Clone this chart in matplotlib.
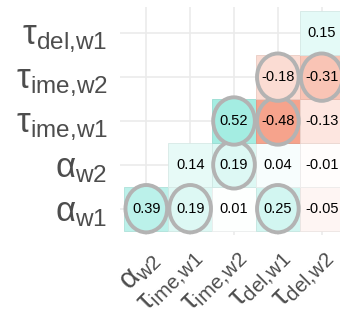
import numpy as np
import matplotlib

matplotlib.use("Agg")
import matplotlib.pyplot as plt
from matplotlib.colors import LinearSegmentedColormap
from matplotlib.patches import Rectangle, Ellipse
from matplotlib.transforms import ScaledTranslation

plt.rcParams["font.family"] = ["Liberation Sans", "DejaVu Sans"]
plt.rcParams["mathtext.default"] = "regular"

# correlation matrix, rows bottom -> top, columns left -> right
col_labels = [r"$\alpha_{w2}$", r"$\tau_{ime{,}w1}$", r"$\tau_{ime{,}w2}$",
              r"$\tau_{del{,}w1}$", r"$\tau_{del{,}w2}$"]
row_labels = [r"$\alpha_{w1}$", r"$\alpha_{w2}$", r"$\tau_{ime{,}w1}$",
              r"$\tau_{ime{,}w2}$", r"$\tau_{del{,}w1}$"]
r_alpha_w1 = [0.39, 0.19, 0.01, 0.25, -0.05]
r_alpha_w2 = [None, 0.14, 0.19, 0.04, -0.01]
r_time_w1 = [None, None, 0.52, -0.48, -0.13]
r_time_w2 = [None, None, None, -0.18, -0.31]
r_del_w1 = [None, None, None, None, 0.15]
sig_alpha_w1 = [1, 1, 0, 1, 0]
sig_alpha_w2 = [0, 0, 1, 0, 0]
sig_time_w1 = [0, 0, 1, 1, 0]
sig_time_w2 = [0, 0, 0, 1, 1]
sig_del_w1 = [0, 0, 0, 0, 0]

corr = [r_alpha_w1, r_alpha_w2, r_time_w1, r_time_w2, r_del_w1]
sig = [sig_alpha_w1, sig_alpha_w2, sig_time_w1, sig_time_w2, sig_del_w1]

cmap = LinearSegmentedColormap.from_list(
    "rw", ["#EC4010", "#FFFFFF", "#50DCC8"])

fig = plt.figure(figsize=(3.4, 3.24), dpi=100)
ax = fig.add_axes((120 / 340, 89 / 324, 228 / 340, 228 / 324))
ax.set_xlim(0.4, 5.6)
ax.set_ylim(0.4, 5.6)
ax.set_facecolor("white")
for s in ax.spines.values():
    s.set_visible(False)

xs = np.arange(1, 6)
ax.set_xticks(xs)
ax.set_yticks(xs)
ax.grid(True, color="#EBEBEB", linewidth=1.2, zorder=0)
ax.set_axisbelow(True)
ax.tick_params(length=0, labelcolor="#4D4D4D")
ax.tick_params(axis="y", pad=9, labelsize=25)
ax.tick_params(axis="x", pad=7, labelsize=21)
ax.set_yticklabels(row_labels)
ax.set_xticklabels(col_labels, rotation=45, ha="right", va="top",
                   rotation_mode="anchor")
shift = ScaledTranslation(-1 / 72, 0, fig.dpi_scale_trans)
for lab in ax.get_xticklabels():
    lab.set_transform(lab.get_transform() + shift)

for i, row in enumerate(corr):
    for j, v in enumerate(row):
        if v is None:
            continue
        x, y = j + 1, i + 1
        fc = np.array(cmap((v + 1) / 2)[:3])
        ec = fc * 0.93
        ax.add_patch(Rectangle((x - 0.5, y - 0.5), 1, 1, facecolor=fc,
                               edgecolor=ec, linewidth=0.6, zorder=2))
        if sig[i][j]:
            ax.add_patch(Ellipse((x, y), 0.95, 1.08, facecolor=fc,
                                 edgecolor="#B3B3B3", linewidth=2.8, zorder=3))
        ax.text(x, y, f"{v:.2f}", ha="center", va="center", fontsize=10.5,
                color="black", zorder=4)

fig.savefig("out.png", dpi=100)
